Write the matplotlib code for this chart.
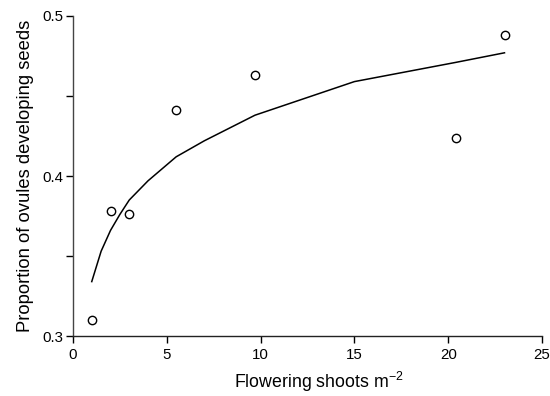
import matplotlib
matplotlib.use("Agg")
import matplotlib.pyplot as plt

plt.rcParams['font.family'] = ['Liberation Sans', 'DejaVu Sans']
plt.rcParams['mathtext.fontset'] = 'custom'
plt.rcParams['mathtext.rm'] = 'Liberation Sans'
plt.rcParams['mathtext.it'] = 'Liberation Sans:italic'

# observed points
shoots = [1.0, 2.0, 3.0, 5.5, 9.7, 20.4, 23.0]
proportion = [0.310, 0.378, 0.376, 0.441, 0.463, 0.424, 0.488]

# fitted curve
fit_x = [1, 1.5, 2, 2.5, 3, 4, 5.5, 7, 9.7, 15, 20.4, 23]
fit_y = [0.334, 0.353, 0.366, 0.376, 0.385, 0.397, 0.412, 0.422, 0.438, 0.459, 0.471, 0.477]

xticks = [0, 5, 10, 15, 20, 25]
yticks = [0.3, 0.35, 0.4, 0.45, 0.5]
ytick_labels = ['0.3', '', '0.4', '', '0.5']

fig = plt.figure(figsize=(5.5, 3.96), dpi=100)
ax = fig.add_axes([0.1327, 0.1515, 0.8528, 0.8081])

ax.plot(fit_x, fit_y, color='black', linewidth=1.1)
ax.plot(shoots, proportion, 'o', markerfacecolor='white', markeredgecolor='black',
		markersize=6, markeredgewidth=1.0)

ax.set_xlim(0, 25)
ax.set_ylim(0.3, 0.5)
ax.set_xticks(xticks)
ax.set_yticks(yticks)
ax.set_yticklabels(ytick_labels)

for side in ['top', 'right']:
	ax.spines[side].set_visible(False)
ax.spines['left'].set_color('#444444')
ax.spines['bottom'].set_color('#222222')
ax.spines['left'].set_linewidth(1.0)
ax.spines['bottom'].set_linewidth(1.0)
ax.tick_params(direction='out', length=5.3, width=1.0, labelsize=10.8)
ax.tick_params(axis='x', pad=3)
ax.tick_params(axis='y', pad=1.5)
ax.spines['left'].set_bounds(0.3, 0.5)

ax.set_xlabel('Flowering shoots m$^{-2}$', fontsize=12.8, labelpad=7)
ax.xaxis.set_label_coords(0.525, -0.105)
ax.set_ylabel('Proportion of ovules developing seeds', fontsize=13.2, labelpad=6)

fig.savefig('out.png', dpi=100)
